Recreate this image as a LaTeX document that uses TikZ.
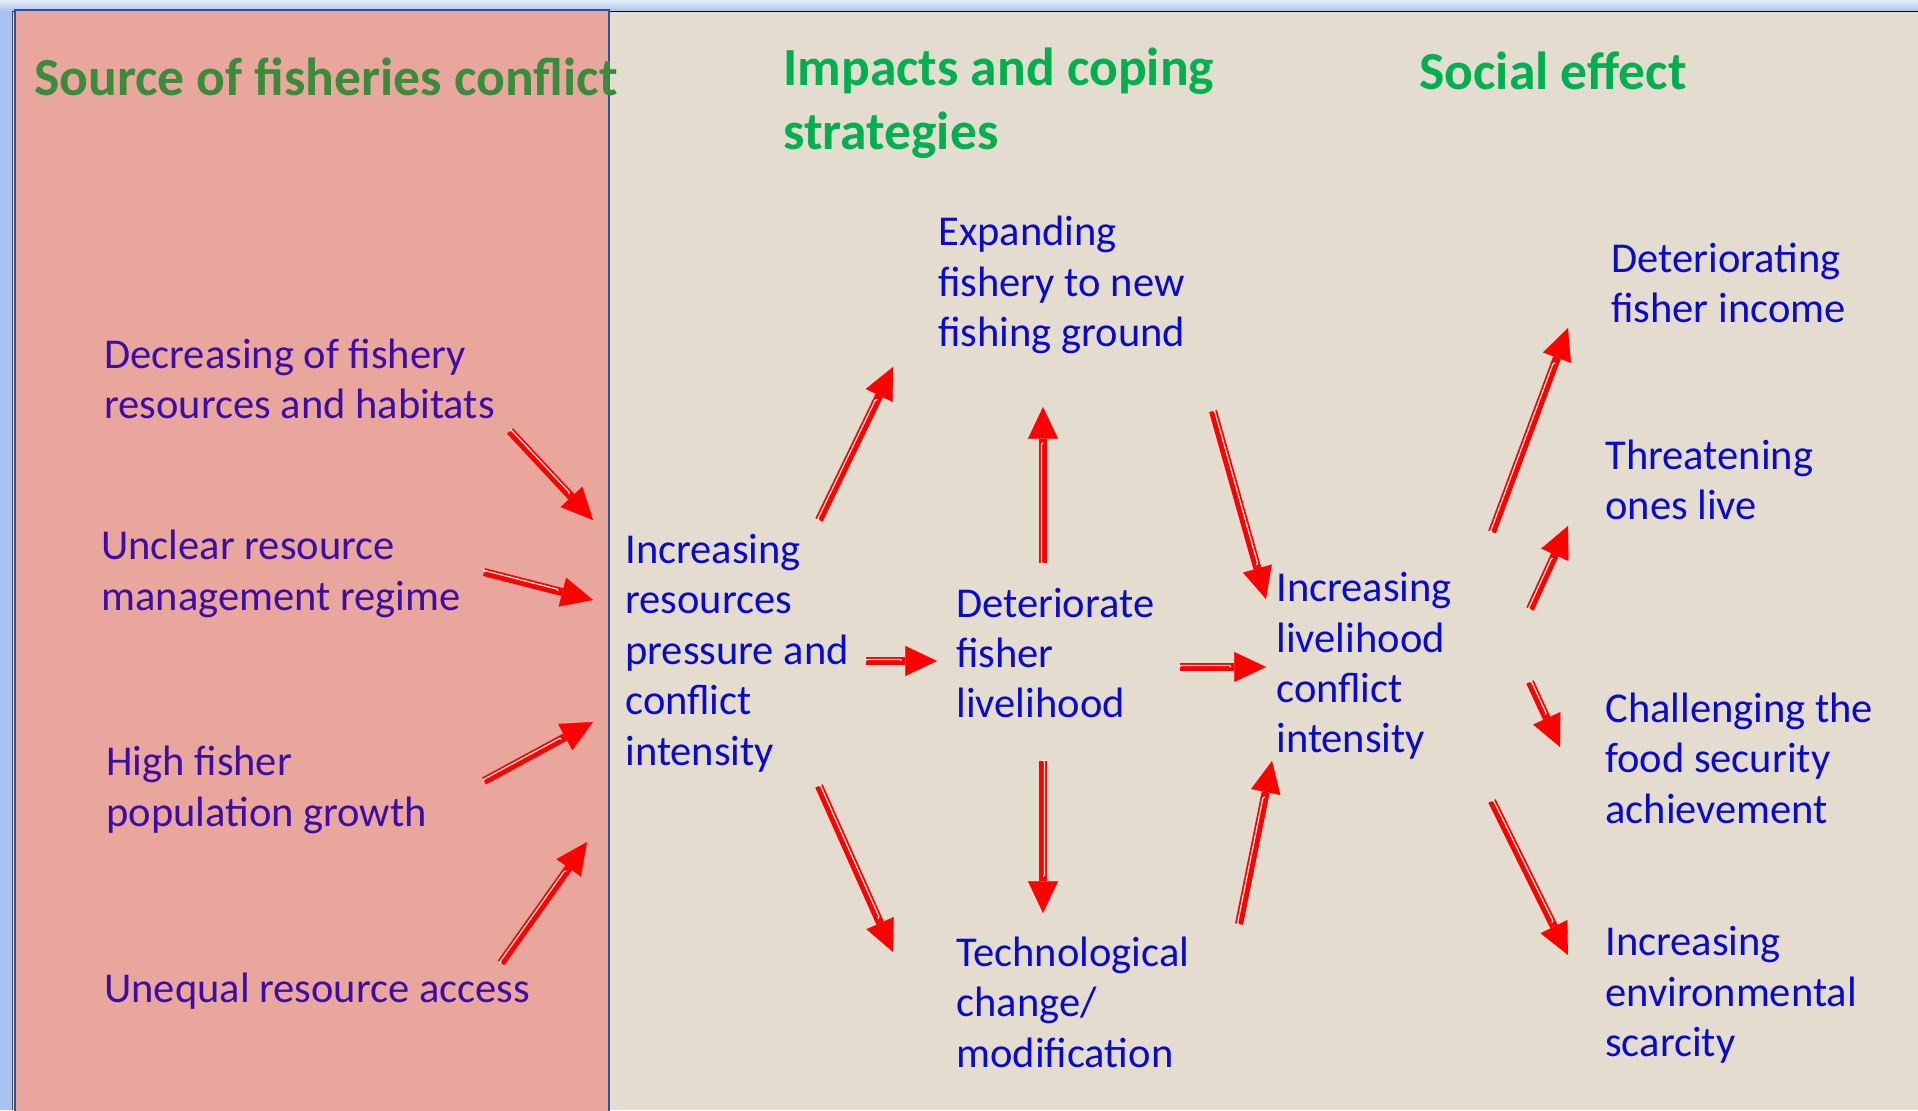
\documentclass[tikz,border=0pt]{standalone}
\usepackage{fontspec}
\setmainfont{Carlito}
\usepackage{tikz}
\usetikzlibrary{calc}
\usetikzlibrary{arrows.meta}
\usetikzlibrary{decorations.pathmorphing}

\definecolor{pinkbg}{HTML}{E9A69C}
\definecolor{sandbg}{HTML}{E3DCCF}
\definecolor{stripe}{HTML}{F3E4DE}
\definecolor{frameblue}{HTML}{2F4F9F}
\definecolor{bandblue}{HTML}{A9C3F0}
\definecolor{headdark}{HTML}{3A8C3C}
\definecolor{headlight}{HTML}{00B050}
\definecolor{txtblue}{HTML}{0A0ACC}
\definecolor{txtpurple}{HTML}{3D0DA6}

\begin{document}
\begin{tikzpicture}[x=0.02cm, y=-0.02cm,
  txt/.style={align=left, anchor=west, inner sep=0pt, text=txtblue,
    font=\fontsize{24.2}{28.7}\selectfont},
  txtl/.style={txt, text=txtpurple},
  head/.style={align=left, anchor=west, inner sep=0pt,
    font=\fontsize{30.5}{36.2}\selectfont\bfseries},
  arr/.style={draw=red, line width=4.6pt,
    -{Triangle[length=18pt,width=17pt,line width=0.1pt]},
    postaction={draw=stripe, line width=0.75pt, -, decorate,
      decoration={curveto, raise=0.9pt, post=moveto, post length=20pt}}}]
\useasboundingbox (0,0) rectangle (1918,1110);

% background and panels
\fill[bandblue] (0,0) rectangle (1918,1110);
\shade[top color=white!70!bandblue, bottom color=bandblue] (0,0) rectangle (1918,11);
\fill[sandbg] (12,11) rectangle (1918,1110);
\draw[black, line width=1pt] (12,11.5) -- (1918,11.5);
\draw[black!70, line width=1pt] (12.5,11) -- (12.5,1110);
\filldraw[fill=pinkbg, draw=frameblue, line width=1.2pt] (15,10) rectangle (609,1116);

% headers
\node(src)[head, text=headdark] at (34,77) {Source of fisheries conflict};
\node(imp)[head, text=headlight] at (783,103) {Impacts and coping\\strategies};
\node(soc)[head, text=headlight] at (1419,71) {Social effect};

% sources
\node(dec)[txtl] at (104,379) {Decreasing of fishery\\resources and habitats};
\node(unc)[txtl] at (101,574) {Unclear resource\\management regime};
\node(pop)[txtl] at (106,790) {High fisher\\population growth};
\node(uneq)[txtl] at (104,991) {Unequal resource access};

% impacts and coping
\node(inc)[txt] at (625,653) {Increasing\\resources\\pressure and\\conflict\\intensity};
\node(exp)[txt] at (938,285) {Expanding\\fishery to new\\fishing ground};
\node(det)[txt] at (956,653) {Deteriorate\\fisher\\livelihood};
\node(tech)[txt] at (956,1002) {Technological\\change/\\modification};
\node(lic)[txt] at (1276,666) {Increasing\\livelihood\\conflict\\intensity};

% social effect
\node(dfi)[txt] at (1611,283) {Deteriorating\\fisher income};
\node(thr)[txt] at (1605,480) {Threatening\\ones live};
\node(cha)[txt] at (1605,758) {Challenging the\\food security\\achievement};
\node(env)[txt] at (1605,995) {Increasing\\environmental\\scarcity};

\draw[arr] ($(dec.west)+(406,52)$) -- ($(inc.west)+(-32,-133)$);
\draw[arr] ($(unc.west)+(383,-2)$) -- ($(inc.west)+(-32,-53)$);
\draw[arr] ($(pop.west)+(378,-9)$) -- ($(inc.west)+(-32,69)$);
\draw[arr] ($(uneq.west)+(397,-28)$) -- ($(inc.west)+(-38,189)$);

\draw[arr] ($(inc.west)+(194,-133)$) -- ($(exp.west)+(-45,82)$);
\draw[arr] ($(inc.west)+(241,8)$) -- ($(det.west)+(-19,8)$);
\draw[arr] ($(inc.west)+(194,133)$) -- ($(tech.west)+(-63,-50)$);
\draw[arr] ($(det.west)+(87,-90)$) -- ($(exp.west)+(105,122)$);
\draw[arr] ($(det.west)+(87,108)$) -- ($(tech.west)+(87,-89)$);

\draw[arr] ($(exp.west)+(275,126)$) -- ($(lic.west)+(-10,-67)$);
\draw[arr] ($(det.west)+(224,14)$) -- ($(lic.west)+(-10,1)$);
\draw[arr] ($(tech.west)+(283,-78)$) -- ($(lic.west)+(-4,95)$);

\draw[arr] ($(lic.west)+(216,-134)$) -- ($(dfi.west)+(-43,45)$);
\draw[arr] ($(lic.west)+(254,-57)$) -- ($(thr.west)+(-37,46)$);
\draw[arr] ($(lic.west)+(254,16)$) -- ($(cha.west)+(-45,-11)$);
\draw[arr] ($(lic.west)+(216,135)$) -- ($(env.west)+(-37,-40)$);
\end{tikzpicture}
\end{document}
